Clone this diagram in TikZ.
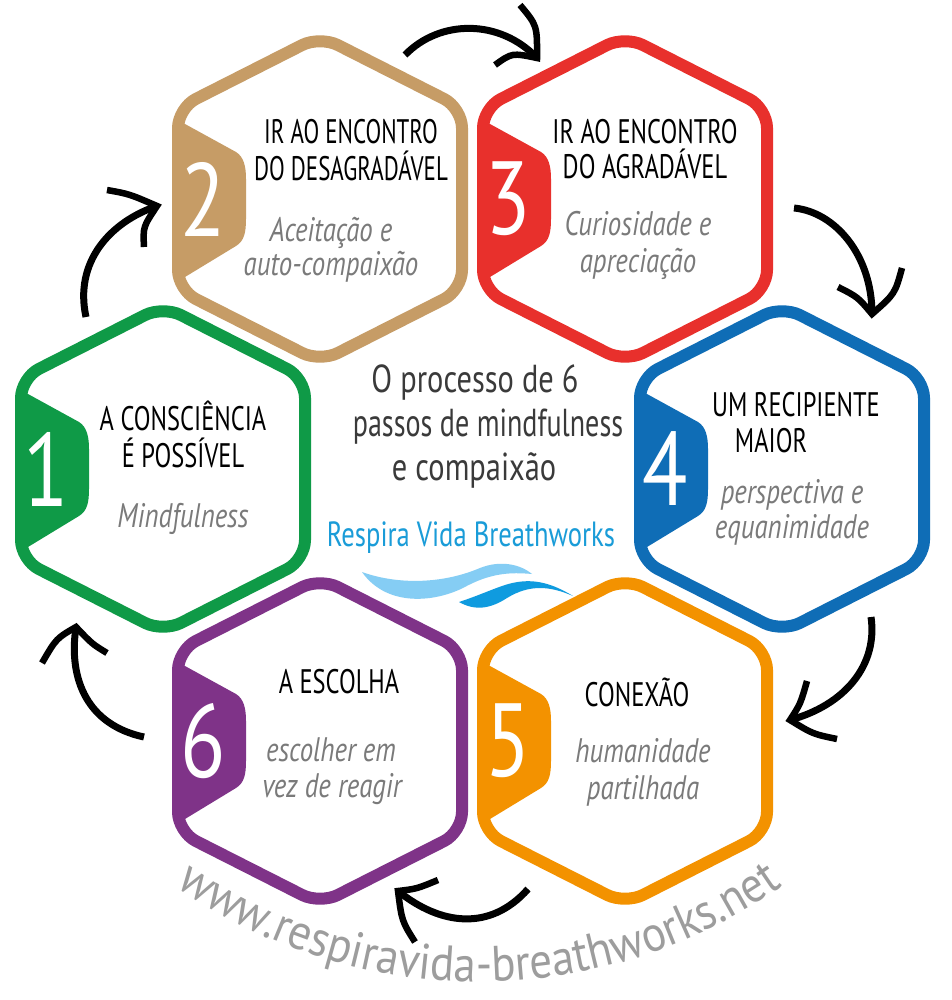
\documentclass[tikz,border=0pt]{standalone}
\usepackage{fontspec}
\setmainfont[FakeStretch=0.8]{PT Sans}
\newfontfamily\urlfont[FakeStretch=0.9]{PT Sans}
\newfontfamily\condfont[FakeStretch=0.72]{PT Sans}
\newfontfamily\condtight[FakeStretch=0.675]{PT Sans}
\newfontfamily\condwide[FakeStretch=0.78]{PT Sans}
\newfontfamily\logofont[FakeStretch=0.76]{PT Sans}
\newfontfamily\subfont[FakeStretch=0.79]{PT Sans}
\usetikzlibrary{calc,decorations.text}
\definecolor{cgreen}{HTML}{0F9A47}
\definecolor{ctan}{HTML}{C69C66}
\definecolor{cred}{HTML}{E8302C}
\definecolor{cblue}{HTML}{0F6DB6}
\definecolor{corange}{HTML}{F39200}
\definecolor{cpurple}{HTML}{7F3388}
\definecolor{cgrey}{HTML}{7A7A7A}
\definecolor{cdark}{HTML}{3A3A3A}
\definecolor{clogo}{HTML}{1A9CD8}
\definecolor{cwavel}{HTML}{85CDF4}
\definecolor{cwaved}{HTML}{0F9BDF}
\tikzset{
 hexline/.style={line width=12pt,rounded corners=20pt,line join=round},
 title/.style={font=\fontsize{34}{37}\selectfont\condfont,text=black,inner sep=0pt,anchor=base},
 titletight/.style={font=\fontsize{34}{37}\selectfont\condtight,text=black,inner sep=0pt,anchor=base},
 sub/.style={font=\fontsize{34}{36}\selectfont\subfont\itshape,text=cgrey,inner sep=0pt,anchor=base},
 centre/.style={font=\fontsize{39}{44}\selectfont\condfont,text=cdark,inner sep=0pt,anchor=base},
 centrewide/.style={font=\fontsize{39}{44}\selectfont\condwide,text=cdark,inner sep=0pt,anchor=base},
 numeral/.style={font=\fontsize{104}{104}\selectfont,text=white,inner sep=0pt},
 flow/.style={line width=7pt,black},
 barbs/.style={line width=6.5pt,black,line join=miter,miter limit=12},
}
\newcommand{\hexa}[4]{%
 \coordinate (#1) at #4;
 \begin{scope}[shift={#4}]
  \fill[#2] (-142,-80) -- (-135,-75) -- (-84,-47) .. controls (-76,-42) and (-74,-32) .. (-74,-20)
    -- (-74,20) .. controls (-74,34) and (-76,42) .. (-84,47) -- (-135,78) -- (-142,82) -- cycle;
  \draw[#2,hexline] (0,-163) -- (142,-91) -- (142,91) -- (0,163) -- (-142,91) -- (-142,-91) -- cycle;
  \node[numeral] (#1num) at (-117,0) {#3};
 \end{scope}}
\newcommand{\headx}[5]{\draw[barbs] (#1) .. controls #2 .. (#3) .. controls #4 .. (#5);}
\begin{document}
\begin{tikzpicture}[x=1pt,y=-1pt]
\useasboundingbox (0,0) rectangle (951,1000);
\fill[white] (0,0) rectangle (951,1000);

\hexa{h2}{ctan}{2}{(320,199)}
\hexa{h3}{cred}{3}{(625,199)}
\hexa{h1}{cgreen}{1}{(163,469)}
\hexa{h4}{cblue}{4}{(782,469)}
\hexa{h6}{cpurple}{6}{(320,741)}
\hexa{h5}{corange}{5}{(625,741)}

% texts
\node[title] (t1a) at (183,430) {A CONSCIÊNCIA};
\node[title] (t1b) at (183,467) {É POSSÍVEL};
\node[sub] (s1a) at (183,527) {Mindfulness};
\node[titletight] (t2a) at (351,144) {IR AO ENCONTRO};
\node[titletight] (t2b) at (351,181) {DO DESAGRADÁVEL};
\node[sub] (s2a) at (331,241) {Aceitação e};
\node[sub] (s2b) at (331,275) {auto-compaixão};
\node[title] (t3a) at (645,144) {IR AO ENCONTRO};
\node[title] (t3b) at (645,179) {DO AGRADÁVEL};
\node[sub] (s3a) at (638,236) {Curiosidade e};
\node[sub] (s3b) at (638,272) {apreciação};
\node[title] (t4a) at (796,416) {UM RECIPIENTE};
\node[title] (t4b) at (771,452) {MAIOR};
\node[sub] (s4a) at (792,503) {perspectiva e};
\node[sub] (s4b) at (792,538) {equanimidade};
\node[title] (t5a) at (637,706) {CONEXÃO};
\node[sub] (s5a) at (643,762) {humanidade};
\node[sub] (s5b) at (643,799) {partilhada};
\node[title] (t6a) at (339,693) {A ESCOLHA};
\node[sub] (s6a) at (331,761) {escolher em};
\node[sub] (s6b) at (332,797) {vez de reagir};
\node[centrewide] (c1) at (475,392) {O processo de 6};
\node[centre] (c2) at (488,436) {passos de mindfulness};
\node[centrewide] (c3) at (474,480) {e compaixão};
\node[font=\fontsize{35}{40}\selectfont\logofont,text=clogo,inner sep=0pt,anchor=base] (logo) at (471,546) {Respira Vida Breathworks};

% waves
\fill[cwavel] (362,572) .. controls (395,584) and (440,585) .. (480,568) .. controls (500,560) and (520,564) .. (532,574)
  .. controls (510,572) and (490,573) .. (463,588) .. controls (430,604) and (385,605) .. (362,572) -- cycle;
\fill[cwaved] (459,602) .. controls (480,595) and (490,590) .. (505,585) .. controls (530,577) and (550,582) .. (573,596)
  .. controls (550,586) and (530,584) .. (507,598) .. controls (490,609) and (475,611) .. (459,602) -- cycle;

% arrows
\coordinate (a1s) at (86,317); \coordinate (a1t) at (157,206);
\coordinate (a1p) at (107,190); \coordinate (a1q) at (144,247);
\coordinate (a2s) at (405,55); \coordinate (a2t) at (537,58);
\coordinate (a2p) at (520,5); \coordinate (a2q) at (495,65);
\coordinate (a3s) at (794,208); \coordinate (a3t) at (872,314);
\coordinate (a3p) at (902,268); \coordinate (a3q) at (838,287);
\coordinate (a4s) at (871,617); \coordinate (a4t) at (790,720);
\coordinate (a4p) at (807,681); \coordinate (a4q) at (837,739);
\coordinate (a5s) at (528,889); \coordinate (a5t) at (398,891);
\coordinate (a5p) at (438,880); \coordinate (a5q) at (415,942);
\coordinate (a6s) at (144,737); \coordinate (a6t) at (76,627);
\coordinate (a6p) at (42,663); \coordinate (a6q) at (107,653);

\draw[flow] (a1s) .. controls (74,262) and (110,222) .. (a1t);
\draw[flow] (a2s) .. controls (440,19) and (500,19) .. (a2t);
\draw[flow] (a3s) .. controls (835,212) and (872,255) .. (a3t);
\draw[flow] (a4s) .. controls (878,665) and (845,705) .. (a4t);
\draw[flow] (a5s) .. controls (490,932) and (440,925) .. (a5t);
\draw[flow] (a6s) .. controls (88,725) and (68,680) .. (a6t);
\headx{a1p}{(129.3,194)}{a1t}{(143,227)}{a1q}
\headx{a2p}{(537.2,25.5)}{a2t}{(512,52.8)}{a2q}
\headx{a3p}{(895,293.7)}{a3t}{(857.7,297)}{a3q}
\headx{a4p}{(800.5,703.8)}{a4t}{(812.8,734)}{a4q}
\headx{a5p}{(416.7,888.8)}{a5t}{(401.8,921)}{a5q}
\headx{a6p}{(56.3,638.4)}{a6t}{(92.2,644)}{a6q}

% curved address
\coordinate (u1) at (154,870);
\coordinate (u2) at (804,870);
\path[decorate,decoration={text along path,text align=center,
  text={|\fontsize{50}{50}\selectfont\urlfont\color[HTML]{9D9D9D}|www.respiravida-breathworks.net}}]
  (u1) .. controls (345,1019) and (613,1019) .. (u2);
\end{tikzpicture}
\end{document}
